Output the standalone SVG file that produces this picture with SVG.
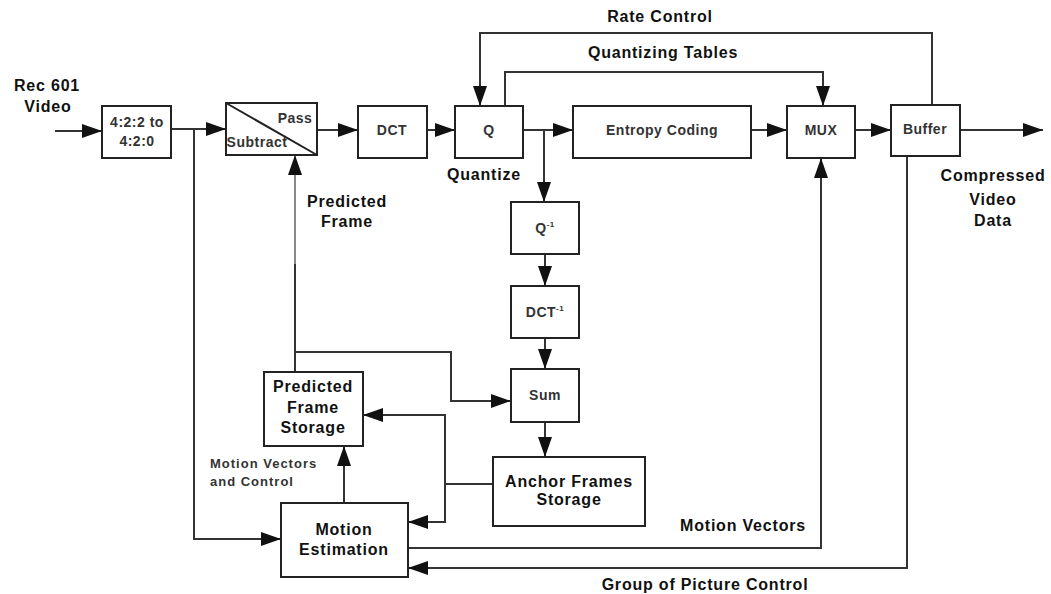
<svg xmlns="http://www.w3.org/2000/svg" width="1051" height="594" viewBox="0 0 1051 594">
<style>
.box{fill:#fff;stroke:#222;stroke-width:2}
.c{fill:none;stroke:#333;stroke-width:2}
.g{fill:none;stroke:#888;stroke-width:2}
text{font-family:"Liberation Sans",Arial,sans-serif;font-weight:bold;fill:#111;text-anchor:middle}
.lb{font-size:16px;letter-spacing:0.8px}
.bt{font-size:14px;letter-spacing:0.5px;fill:#333}
.sm{font-size:13px;letter-spacing:1px;text-anchor:start;fill:#333}
.sup{font-size:8px}
</style>
<defs>
<marker id="a" markerUnits="userSpaceOnUse" markerWidth="20" markerHeight="14" refX="20" refY="7" orient="auto">
<path d="M0,0 L20,7 L0,14 z" fill="#111"/>
</marker>
</defs>
<rect width="1051" height="594" fill="#fff"/>
<g id="connectors">
<path class="c" d="M55,131 H102" marker-end="url(#a)"/>
<path class="c" d="M171,129 H226" marker-end="url(#a)"/>
<path class="c" d="M194,129 V539 H281" marker-end="url(#a)"/>
<path class="c" d="M317,130 H358" marker-end="url(#a)"/>
<path class="c" d="M427,130 H455" marker-end="url(#a)"/>
<path class="c" d="M523,130 H573" marker-end="url(#a)"/>
<path class="c" d="M544,130 V202" marker-end="url(#a)"/>
<path class="c" d="M545,254 V286" marker-end="url(#a)"/>
<path class="c" d="M545,338 V369" marker-end="url(#a)"/>
<path class="c" d="M545,422 V457" marker-end="url(#a)"/>
<path class="c" d="M751,130 H787" marker-end="url(#a)"/>
<path class="c" d="M855,130 H891" marker-end="url(#a)"/>
<path class="c" d="M960,130 H1043" marker-end="url(#a)"/>
<path class="c" d="M932,105 V33 H480 V106" marker-end="url(#a)"/>
<path class="c" d="M505,106 V72 H823 V106" marker-end="url(#a)"/>
<path class="c" d="M295,372 V263"/>
<path class="g" d="M295,264 V155" marker-end="url(#a)"/>
<path class="c" d="M295,352 H451 V401 H511" marker-end="url(#a)"/>
<path class="c" d="M493,484 H445"/>
<path class="c" d="M445,485 V415 H363" marker-end="url(#a)"/>
<path class="c" d="M445,483 V522 H408" marker-end="url(#a)"/>
<path class="c" d="M344,503 V446" marker-end="url(#a)"/>
<path class="c" d="M408,548 H821 V158" marker-end="url(#a)"/>
<path class="c" d="M907,156 V568 H408" marker-end="url(#a)"/>
</g>
<g id="n-convert"><rect class="box" x="102" y="106" width="69" height="52"/>
<text class="bt" x="137" y="127">4:2:2 to</text><text class="bt" x="137" y="146">4:2:0</text></g>
<g id="n-subtract"><rect class="box" x="226" y="103" width="91" height="52"/>
<line x1="226" y1="103" x2="317" y2="155" stroke="#222" stroke-width="2"/>
<text class="bt" x="295" y="123">Pass</text><text class="bt" x="257" y="147">Subtract</text></g>
<g id="n-dct"><rect class="box" x="358" y="106" width="69" height="52"/><text class="bt" x="392" y="135">DCT</text></g>
<g id="n-q"><rect class="box" x="455" y="106" width="68" height="52"/><text class="bt" x="489" y="135">Q</text></g>
<g id="n-entropy"><rect class="box" x="573" y="106" width="178" height="52"/><text class="bt" x="662" y="135">Entropy Coding</text></g>
<g id="n-mux"><rect class="box" x="787" y="106" width="68" height="52"/><text class="bt" x="821" y="135">MUX</text></g>
<g id="n-buffer"><rect class="box" x="891" y="105" width="69" height="51"/><text class="bt" x="925" y="134">Buffer</text></g>
<g id="n-iq"><rect class="box" x="511" y="202" width="68" height="52"/><text class="bt" x="545" y="233">Q<tspan class="sup" dy="-6">-1</tspan></text></g>
<g id="n-idct"><rect class="box" x="511" y="286" width="68" height="52"/><text class="bt" x="545" y="317">DCT<tspan class="sup" dy="-6">-1</tspan></text></g>
<g id="n-sum"><rect class="box" x="511" y="369" width="68" height="53"/><text class="bt" x="545" y="400">Sum</text></g>
<g id="n-anchor"><rect class="box" x="493" y="457" width="152" height="69"/>
<text class="lb" x="569" y="487">Anchor Frames</text><text class="lb" x="569" y="505">Storage</text></g>
<g id="n-pfs"><rect class="box" x="264" y="372" width="99" height="74"/>
<text class="lb" x="313" y="392">Predicted</text><text class="lb" x="313" y="413">Frame</text><text class="lb" x="313" y="433">Storage</text></g>
<g id="n-me"><rect class="box" x="281" y="503" width="127" height="74"/>
<text class="lb" x="344" y="535">Motion</text><text class="lb" x="344" y="555">Estimation</text></g>
<g id="labels">
<text class="lb" x="47" y="91">Rec 601</text><text class="lb" x="48" y="112">Video</text>
<text class="lb" x="660" y="22">Rate Control</text>
<text class="lb" x="663" y="58">Quantizing Tables</text>
<text class="lb" x="484" y="180">Quantize</text>
<text class="lb" x="993" y="181">Compressed</text><text class="lb" x="993" y="205">Video</text><text class="lb" x="993" y="226">Data</text>
<text class="lb" x="347" y="207">Predicted</text><text class="lb" x="347" y="227">Frame</text>
<text class="sm" x="210" y="468">Motion Vectors</text><text class="sm" x="210" y="486">and Control</text>
<text class="lb" x="743" y="531">Motion Vectors</text>
<text class="lb" x="705" y="590">Group of Picture Control</text>
</g>
</svg>
